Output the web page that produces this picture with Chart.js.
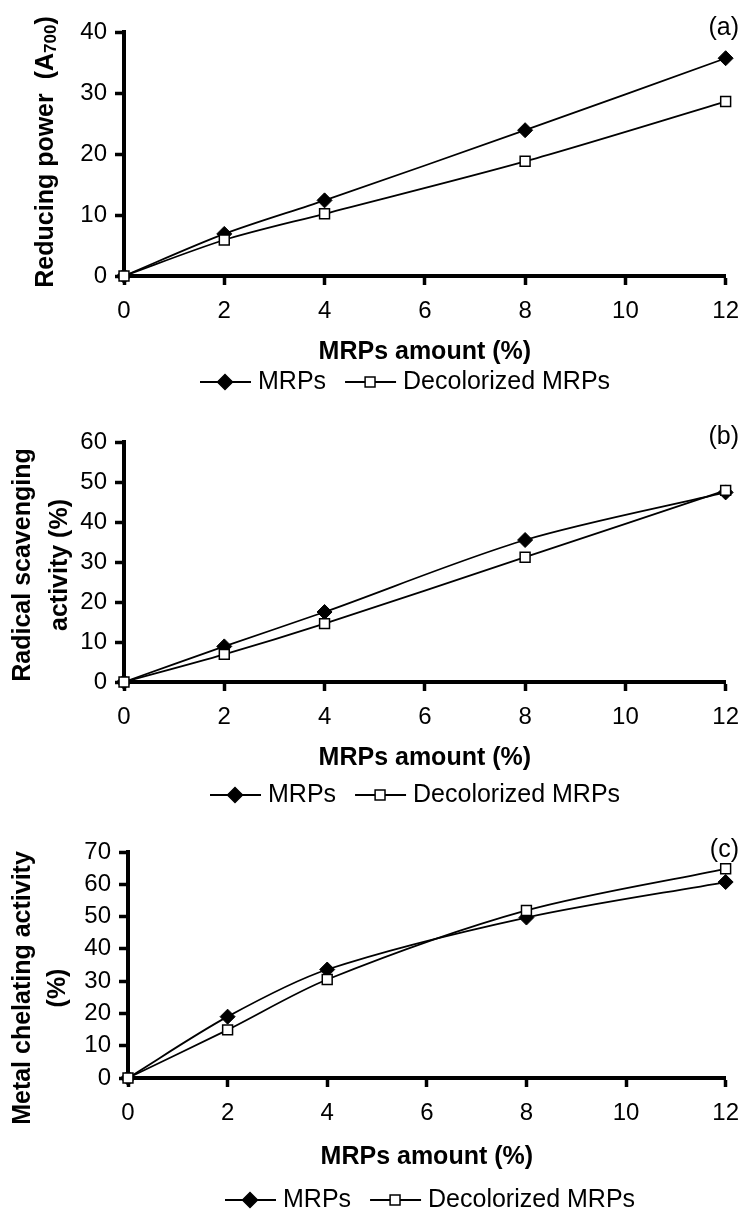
<!DOCTYPE html>
<html>
<head>
<meta charset="utf-8">
<script src="https://cdn.jsdelivr.net/npm/chart.js@4/dist/chart.umd.min.js"></script>
<style>
  html, body { margin: 0; padding: 0; background: #fff; }
  body { width: 751px; height: 1211px; position: relative; overflow: hidden; }
  canvas { position: absolute; left: 0; }
</style>
</head>
<body>
<canvas id="chartA" width="751" height="400" style="top:0px"></canvas>
<canvas id="chartB" width="751" height="410" style="top:400px"></canvas>
<canvas id="chartC" width="751" height="401" style="top:810px"></canvas>
<script>
// MRPs amount (%) on the x axis
const amounts = [0, 2, 4, 8, 12];
const seriesNames = ['MRPs', 'Decolorized MRPs'];
const xTitle = 'MRPs amount (%)';

// (a) reducing power
const reducingMRPs = [0, 6.9, 12.4, 23.9, 35.7];
const reducingDecol = [0, 5.9, 10.2, 18.8, 28.6];
// (b) radical scavenging activity
const scavengingMRPs = [0, 8.9, 17.5, 35.5, 47.4];
const scavengingDecol = [0, 6.9, 14.6, 31.2, 47.9];
// (c) metal chelating activity
const chelatingMRPs = [0, 19.0, 33.6, 49.7, 60.7];
const chelatingDecol = [0, 14.9, 30.5, 51.9, 64.8];

const panelLabels = ['(a)', '(b)', '(c)'];
const yMaxes = [40, 60, 70];

const FONT = "'Liberation Sans', Arial, Helvetica, sans-serif";

function toPoints(ys) {
    return amounts.map((x, i) => ({x: x, y: ys[i]}));
}

// y titles, panel letter and the line+marker legend
const extrasPlugin = {
    id: 'extras',
    afterDraw(chart, args, opts) {
        const ctx = chart.ctx;
        ctx.save();
        ctx.fillStyle = '#000';

        // rotated y title
        ctx.font = 'bold 25px ' + FONT;
        ctx.textBaseline = 'middle';
        opts.yTitle.forEach(line => {
            ctx.save();
            ctx.translate(line.x, opts.yTitleY);
            ctx.rotate(-Math.PI / 2);
            if (line.sub) {
                const subFont = 'bold 17px ' + FONT;
                const w1 = ctx.measureText(line.text).width;
                ctx.font = subFont;
                const w2 = ctx.measureText(line.sub).width;
                ctx.font = 'bold 25px ' + FONT;
                const w3 = ctx.measureText(line.after).width;
                let x = -(w1 + w2 + w3) / 2;
                ctx.textAlign = 'left';
                ctx.fillText(line.text, x, 0);
                x += w1;
                ctx.font = subFont;
                ctx.fillText(line.sub, x, 5);
                x += w2;
                ctx.font = 'bold 25px ' + FONT;
                ctx.fillText(line.after, x, 0);
            } else {
                ctx.textAlign = 'center';
                ctx.fillText(line.text, 0, 0);
            }
            ctx.restore();
        });

        // panel letter
        ctx.font = '25px ' + FONT;
        ctx.textAlign = 'right';
        ctx.fillText(opts.label, 739, opts.labelY);

        // legend
        let x = opts.legendX;
        const y = opts.legendY;
        chart.data.datasets.slice().sort((a, b) => a.legendIndex - b.legendIndex).forEach(ds => {
            ctx.strokeStyle = '#000';
            ctx.lineWidth = 1.8;
            ctx.beginPath();
            ctx.moveTo(x, y);
            ctx.lineTo(x + 51, y);
            ctx.stroke();
            ctx.fillStyle = ds.pointBackgroundColor;
            ctx.lineWidth = 1.5;
            Chart.helpers.drawPoint(ctx, {
                pointStyle: ds.pointStyle,
                radius: ds.pointRadius,
                rotation: 0,
                borderWidth: 1.5
            }, x + 25, y);
            ctx.fillStyle = '#000';
            ctx.font = '25px ' + FONT;
            ctx.textAlign = 'left';
            ctx.fillText(ds.label, x + 58, y);
            x += 58 + ctx.measureText(ds.label).width + 19;
        });
        ctx.restore();
    }
};

function makePanel(id, p) {
    const H = document.getElementById(id).height;
    return new Chart(document.getElementById(id), {
        type: 'line',
        data: {
            datasets: [{
                label: seriesNames[0],
                legendIndex: 0,
                order: 1,
                data: toPoints(p.mrps),
                borderColor: '#000',
                borderWidth: 1.8,
                tension: 0.3,
                pointStyle: 'rectRot',
                pointRadius: 7.5,
                pointBackgroundColor: '#000',
                pointBorderColor: '#000',
                pointBorderWidth: 1,
                clip: false
            }, {
                label: seriesNames[1],
                legendIndex: 1,
                order: 0,
                data: toPoints(p.decol),
                borderColor: '#000',
                borderWidth: 1.8,
                tension: 0.3,
                pointStyle: 'rect',
                pointRadius: 7,
                pointBackgroundColor: '#fff',
                pointBorderColor: '#000',
                pointBorderWidth: 1.5,
                clip: false
            }]
        },
        options: {
            responsive: false,
            animation: false,
            events: [],
            layout: {
                autoPadding: false,
                padding: {top: p.top, right: 751 - p.right, left: 0, bottom: 0}
            },
            plugins: {
                legend: {display: false},
                tooltip: {enabled: false},
                extras: p.extras
            },
            scales: {
                x: {
                    type: 'linear',
                    min: 0,
                    max: 12,
                    ticks: {stepSize: 2, color: '#000', padding: 12, maxRotation: 0,
                            font: {size: 24, family: FONT}},
                    grid: {drawOnChartArea: false, tickLength: 9, tickWidth: 3.5, tickColor: '#000'},
                    border: {color: '#000', width: 4},
                    title: {display: true, text: xTitle, color: '#000',
                            font: {size: 25, weight: 'bold', family: FONT},
                            padding: {top: 0, bottom: H - p.titleY - 15}},
                    afterFit: s => { s.height = H - p.bottom; }
                },
                y: {
                    min: 0,
                    max: p.yMax,
                    ticks: {stepSize: 10, color: '#000', padding: 8,
                            font: {size: 24, family: FONT}},
                    grid: {drawOnChartArea: false, tickLength: 9, tickWidth: 3.5, tickColor: '#000'},
                    border: {color: '#000', width: 4},
                    afterFit: s => { s.width = p.left; }
                }
            }
        },
        plugins: [extrasPlugin]
    });
}

makePanel('chartA', {
    mrps: reducingMRPs, decol: reducingDecol, yMax: yMaxes[0],
    left: 124, right: 737, top: 32, bottom: 276, titleY: 352,
    extras: {
        yTitle: [{x: 46, text: 'Reducing power  (A', sub: '700', after: ')'}],
        yTitleY: 152, label: panelLabels[0], labelY: 28, legendX: 200, legendY: 382
    }
});

makePanel('chartB', {
    mrps: scavengingMRPs, decol: scavengingDecol, yMax: yMaxes[1],
    left: 124, right: 737, top: 42, bottom: 282, titleY: 358,
    extras: {
        yTitle: [{x: 23, text: 'Radical scavenging'}, {x: 60, text: 'activity (%)'}],
        yTitleY: 165, label: panelLabels[1], labelY: 37, legendX: 210, legendY: 395
    }
});

makePanel('chartC', {
    mrps: chelatingMRPs, decol: chelatingDecol, yMax: yMaxes[2],
    left: 128, right: 737, top: 42, bottom: 268, titleY: 347,
    extras: {
        yTitle: [{x: 23, text: 'Metal chelating activity'}, {x: 58, text: '(%)'}],
        yTitleY: 178, label: panelLabels[2], labelY: 40, legendX: 225, legendY: 390
    }
});
</script>
</body>
</html>
